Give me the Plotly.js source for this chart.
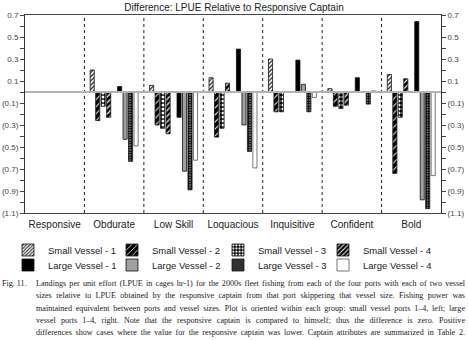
<!DOCTYPE html>
<html>
<head>
<meta charset="utf-8">
<script src="https://cdn.plot.ly/plotly-3.0.1.min.js"></script>
<style>
  html, body { margin: 0; padding: 0; background: #fff; }
  #wrap { position: relative; width: 468px; height: 340px; overflow: hidden; }
  #chart { position: absolute; left: 0; top: 0; width: 468px; height: 340px; }
  #cap { position: absolute; left: 36px; top: 278px; width: 429px; font-family: "Liberation Serif", "Times New Roman", serif; font-size: 8.1px; line-height: 12.3px; color: #222; }
  #cap div { text-align: justify; text-align-last: justify; white-space: normal; }
  #fig { position: absolute; left: 2px; top: 278px; font-family: "Liberation Serif", serif; font-size: 8.1px; line-height: 12.3px; color: #222; }
</style>
</head>
<body>
<div id="wrap">
  <div id="chart"></div>
  <div id="fig"></div>
  <div id="cap"></div>
</div>
<script>
// ---- data ----
const categories = ['Responsive', 'Obdurate', 'Low Skill', 'Loquacious', 'Inquisitive', 'Confident', 'Bold'];
const smallVessel1 = [0, 0.20, 0.06, 0.13, 0.30, 0.03, 0.16];
const smallVessel2 = [0, -0.26, -0.30, -0.41, -0.18, -0.13, -0.74];
const smallVessel3 = [0, -0.13, -0.33, -0.33, -0.18, -0.15, -0.23];
const smallVessel4 = [0, -0.23, -0.38, 0.08, 0, -0.12, 0.12];
const largeVessel1 = [0, 0.05, -0.23, 0.39, 0.29, 0.13, 0.64];
const largeVessel2 = [0, -0.43, -0.72, -0.30, 0.07, 0, -0.98];
const largeVessel3 = [0, -0.63, -0.89, -0.54, -0.18, -0.11, -1.06];
const largeVessel4 = [0, -0.49, -0.62, -0.69, -0.05, 0.01, -0.76];
const tickValues = [0.7, 0.6, 0.5, 0.4, 0.3, 0.2, 0.1, 0, -0.1, -0.2, -0.3, -0.4, -0.5, -0.6, -0.7, -0.8, -0.9, -1.0, -1.1];
const tickLabels = ['0.7', '', '0.5', '', '0.3', '', '0.1', '', '(0.1)', '', '(0.3)', '', '(0.5)', '', '(0.7)', '', '(0.9)', '', '(1.1)'];
const seriesNames = ['Small Vessel - 1', 'Small Vessel - 2', 'Small Vessel - 3', 'Small Vessel - 4',
                     'Large Vessel - 1', 'Large Vessel - 2', 'Large Vessel - 3', 'Large Vessel - 4'];
const chartTitle = 'Difference: LPUE Relative to Responsive Captain';
const figLabel = 'Fig. 11.';
const captionLines = [
  'Landings per unit effort (LPUE in cages hr-1) for the 2000s fleet fishing from each of the four ports with each of two vessel',
  'sizes relative to LPUE obtained by the responsive captain from that port skippering that vessel size. Fishing power was',
  'maintained equivalent between ports and vessel sizes. Plot is oriented within each group: small vessel ports 1\u20134, left; large',
  'vessel ports 1\u20134, right. Note that the responsive captain is compared to himself; thus the difference is zero. Positive',
  'differences show cases where the value for the responsive captain was lower. Captain attributes are summarized in Table 2.'
];

// ---- styles ----
const lineStyle = {color: '#111', width: 0.8};
const styles = [
  {color: '#fff', line: lineStyle, pattern: {shape: '/', fgcolor: '#333', bgcolor: '#fff', size: 3, solidity: 0.45}},
  {color: '#000', line: lineStyle, pattern: {shape: '/', fgcolor: '#fff', bgcolor: '#000', size: 5, solidity: 0.2}},
  {color: '#000', line: lineStyle, pattern: {shape: '.', fgcolor: '#fff', bgcolor: '#000', size: 4, solidity: 0.45}},
  {color: '#000', line: lineStyle, pattern: {shape: '/', fgcolor: '#fff', bgcolor: '#000', size: 4, solidity: 0.3}},
  {color: '#000', line: lineStyle},
  {color: '#9a9a9a', line: lineStyle, pattern: {shape: 'x', fgcolor: '#777', bgcolor: '#aaa', size: 2, solidity: 0.3}},
  {color: '#111', line: lineStyle, pattern: {shape: '+', fgcolor: '#000', bgcolor: '#ddd', size: 2.5, solidity: 0.8}},
  {color: '#fff', line: {color: '#555', width: 0.8}}
];
const seriesValues = [smallVessel1, smallVessel2, smallVessel3, smallVessel4,
                      largeVessel1, largeVessel2, largeVessel3, largeVessel4];

// legend placement (pixels in the 468x340 page)
const legendColX = [8, 112, 218, 323];
const legendRowY = [250, 265];

const traces = [];
const legends = {};
seriesValues.forEach((vals, i) => {
  const key = i === 0 ? 'legend' : 'legend' + (i + 1);
  legends[key] = {
    orientation: 'h', xref: 'container', yref: 'container',
    x: legendColX[i % 4] / 468, y: 1 - legendRowY[Math.floor(i / 4)] / 340,
    xanchor: 'left', yanchor: 'middle',
    font: {size: 9.5, color: '#222'}, bgcolor: 'rgba(0,0,0,0)', borderwidth: 0
  };
  traces.push({
    type: 'bar', x: categories, y: vals, name: seriesNames[i],
    marker: styles[i], legend: key, hoverinfo: 'x+y+name'
  });
  if (i === 3) {
    // empty spacer slot between small and large vessel bars
    traces.push({type: 'bar', x: categories, y: categories.map(() => null),
      showlegend: false, hoverinfo: 'skip', marker: {color: 'rgba(0,0,0,0)'}});
  }
});
// invisible trace anchoring the mirrored right axis
traces.push({type: 'scatter', mode: 'markers', x: [categories[0]], y: [null], yaxis: 'y2',
  showlegend: false, hoverinfo: 'skip', marker: {opacity: 0}});

const shapes = [];
for (let i = 0; i < categories.length - 1; i++) {
  shapes.push({type: 'line', xref: 'x', yref: 'paper', x0: i + 0.5, x1: i + 0.5, y0: 0, y1: 1,
    line: {color: '#222', width: 1, dash: 'dot'}, layer: 'below'});
}
// zero reference line drawn above the bars
shapes.push({type: 'line', xref: 'paper', yref: 'y', x0: 0, x1: 1, y0: 0, y1: 0,
  line: {color: '#b3b3b3', width: 2}, layer: 'above'});

const axisFont = {family: 'Liberation Sans, Arial, sans-serif', size: 8, color: '#444'};
const yCommon = {
  range: [-1.1, 0.7], tickmode: 'array', tickvals: tickValues, ticktext: tickLabels,
  ticks: 'outside', ticklen: 4, tickcolor: '#444', tickwidth: 1,
  showgrid: false, showline: true, linecolor: '#333', linewidth: 1,
  tickfont: axisFont, fixedrange: true, zeroline: false
};

const layout = Object.assign({
  width: 468, height: 340,
  margin: {l: 25, r: 27, t: 15, b: 127, pad: 0},
  paper_bgcolor: '#fff', plot_bgcolor: '#fff',
  font: {family: 'Liberation Sans, Arial, sans-serif', color: '#222'},
  title: {text: chartTitle, x: 0.5, xanchor: 'center', y: 1 - 7 / 340, yanchor: 'middle',
    font: {size: 10, color: '#222', family: 'Liberation Sans, Arial, sans-serif'}},
  barmode: 'group', bargap: 0.17, bargroupgap: 0.25,
  showlegend: true,
  xaxis: {
    type: 'category', showline: true, mirror: true, linecolor: '#444', linewidth: 1,
    ticks: '', showgrid: false, ticklabelstandoff: 2,
    tickfont: {size: 10, color: '#222', family: 'Liberation Sans, Arial, sans-serif'},
    fixedrange: true
  },
  yaxis: Object.assign({}, yCommon),
  yaxis2: Object.assign({}, yCommon, {overlaying: 'y', side: 'right'}),
  shapes: shapes
}, legends);

Plotly.newPlot('chart', traces, layout, {displayModeBar: false, staticPlot: true});

document.getElementById('fig').textContent = figLabel;
const cap = document.getElementById('cap');
captionLines.forEach(t => {
  const d = document.createElement('div');
  d.textContent = t;
  cap.appendChild(d);
});
</script>
</body>
</html>
